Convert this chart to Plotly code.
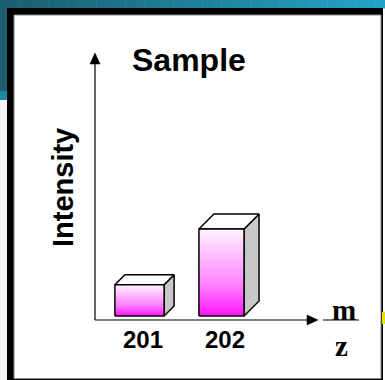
import plotly.graph_objects as go

# ---------------- data ----------------
categories = ["201", "202"]
intensity = [36, 100]
title_text = "Sample"
y_label = "Intensity"
x_label_num = "m"
x_label_den = "z"

# ---------------- styles / calibration ----------------
W, H = 385, 380
PX_PER_X = 82.0      # pixels per category step
PX_PER_Y = 0.87      # pixels per intensity unit
X0_PX = 139.5        # pixel x of category 0 centre
Y0_PX = 316.0        # pixel y of zero intensity
BAR_W = [0.60, 0.55]     # front face width (category units)
DEPTH_PX = [10, 15]      # 3-D depth offset in pixels (perspective)
FRONT_SCALE = [[0, "#ff14ff"], [0.35, "#ff80ff"], [1, "#fff4ff"]]
SIDE = "#c8c8c8"
TOP = "#ffffff"
EDGE = "black"

x_range = [-X0_PX / PX_PER_X, (W - X0_PX) / PX_PER_X]
y_range = [-(H - Y0_PX) / PX_PER_Y, Y0_PX / PX_PER_Y]


def px(x):
    return x / W


def py(y):
    return 1 - y / H


fig = go.Figure()

# ---------------- 3-D bars ----------------
for i, (cat, val) in enumerate(zip(categories, intensity)):
    xc = i
    xl, xr = xc - BAR_W[i] / 2, xc + BAR_W[i] / 2
    dx = DEPTH_PX[i] / PX_PER_X
    dy = DEPTH_PX[i] / PX_PER_Y
    # side face
    fig.add_trace(go.Scatter(
        x=[xr, xr + dx, xr + dx, xr, xr], y=[0, dy, val + dy, val, 0],
        fill="toself", fillcolor=SIDE, mode="lines",
        line=dict(color=EDGE, width=1.5), hoverinfo="skip", showlegend=False))
    # top face
    fig.add_trace(go.Scatter(
        x=[xl, xr, xr + dx, xl + dx, xl], y=[val, val, val + dy, val + dy, val],
        fill="toself", fillcolor=TOP, mode="lines",
        line=dict(color=EDGE, width=1.5), hoverinfo="skip", showlegend=False))
    # front face with vertical gradient
    fig.add_trace(go.Scatter(
        x=[xl, xr, xr, xl, xl], y=[0, 0, val, val, 0],
        fill="toself", mode="lines",
        fillgradient=dict(type="vertical", colorscale=FRONT_SCALE),
        line=dict(color=EDGE, width=1.5), name=cat,
        hovertemplate=cat + ": %{y}<extra></extra>", showlegend=False))

# ---------------- background / frame ----------------
shapes = []
shapes.append(dict(type="rect", xref="paper", yref="paper", x0=0, x1=px(7),
                   y0=py(380), y1=py(100), fillcolor="#f1f5f5", line_width=0, layer="below"))
shapes.append(dict(type="rect", xref="paper", yref="paper", x0=0, x1=px(7),
                   y0=py(100), y1=py(91), fillcolor="#1c87a1", line_width=0, layer="below"))
shapes.append(dict(type="rect", xref="paper", yref="paper", x0=0, x1=px(7),
                   y0=py(91), y1=py(0), fillcolor="#1b5e6d", line_width=0, layer="below"))
c0 = (0x1b, 0x5e, 0x6d)
c1 = (0x24, 0xa3, 0xc8)
n = 40
for k in range(n):
    t = k / (n - 1)
    col = "rgb(%d,%d,%d)" % tuple(round(a + (b - a) * t) for a, b in zip(c0, c1))
    shapes.append(dict(type="rect", xref="paper", yref="paper",
                       x0=px(W * k / n), x1=px(W * (k + 1) / n + 0.5),
                       y0=py(8.5), y1=py(0), fillcolor=col, line_width=0, layer="below"))
shapes.append(dict(type="rect", xref="paper", yref="paper", x0=px(7), x1=px(383),
                   y0=py(380), y1=py(8), fillcolor="black", line_width=0, layer="below"))
shapes.append(dict(type="rect", xref="paper", yref="paper", x0=px(14), x1=px(381),
                   y0=py(378.5), y1=py(15), fillcolor="white",
                   line=dict(color="#8a8a8a", width=1), layer="below"))

# axes lines
shapes.append(dict(type="line", xref="paper", yref="paper", x0=px(95), x1=px(95),
                   y0=py(320), y1=py(60), line=dict(color="black", width=1.2)))
shapes.append(dict(type="line", xref="paper", yref="paper", x0=px(95), x1=px(310),
                   y0=py(320), y1=py(320), line=dict(color="black", width=1.2)))
# arrow heads
shapes.append(dict(type="path", xref="paper", yref="paper",
                   path="M %f %f L %f %f L %f %f Z" % (px(95), py(53), px(90), py(64), px(100), py(64)),
                   fillcolor="black", line=dict(color="black", width=0.5)))
shapes.append(dict(type="path", xref="paper", yref="paper",
                   path="M %f %f L %f %f L %f %f Z" % (px(318), py(320), px(307), py(315), px(307), py(325)),
                   fillcolor="black", line=dict(color="black", width=0.5)))
# m/z fraction bar
shapes.append(dict(type="line", xref="paper", yref="paper", x0=px(323), x1=px(359),
                   y0=py(320), y1=py(320), line=dict(color="black", width=1.2)))
# yellow sliver at right edge
shapes.append(dict(type="rect", xref="paper", yref="paper", x0=px(382), x1=px(385),
                   y0=py(324), y1=py(312), fillcolor="#e6e000", line_width=0))

# ---------------- text ----------------
ann = []
sans = "Liberation Sans, Arial, sans-serif"
serif = "Liberation Serif, Times New Roman, serif"
ann.append(dict(text="<b>%s</b>" % title_text, xref="paper", yref="paper",
                x=px(189), y=py(60), showarrow=False, xanchor="center", yanchor="middle",
                font=dict(family=sans, size=32, color="black")))
ann.append(dict(text="<b>%s</b>" % y_label, xref="paper", yref="paper",
                x=px(63), y=py(188), showarrow=False, xanchor="center", yanchor="middle",
                textangle=-90, font=dict(family=sans, size=29, color="black")))
for i, cat in enumerate(categories):
    ann.append(dict(text="<b>%s</b>" % cat, xref="x", yref="paper",
                    x=i + 3 / PX_PER_X, y=py(339), showarrow=False,
                    xanchor="center", yanchor="middle",
                    font=dict(family=sans, size=24, color="black")))
ann.append(dict(text="<b>%s</b>" % x_label_num, xref="paper", yref="paper",
                x=px(344), y=py(310), showarrow=False, xanchor="center", yanchor="middle",
                font=dict(family=serif, size=29, color="black")))
ann.append(dict(text="<b>%s</b>" % x_label_den, xref="paper", yref="paper",
                x=px(341), y=py(346), showarrow=False, xanchor="center", yanchor="middle",
                font=dict(family=serif, size=29, color="black")))

fig.update_layout(
    width=W, height=H, margin=dict(l=0, r=0, t=0, b=0),
    paper_bgcolor="white", plot_bgcolor="rgba(0,0,0,0)",
    xaxis=dict(range=x_range, visible=False, fixedrange=True),
    yaxis=dict(range=y_range, visible=False, fixedrange=True),
    shapes=shapes, annotations=ann, showlegend=False,
)

fig.write_html("out.html", config={"displayModeBar": False})

# remove the browser's default page margin so the figure sits at (0, 0)
with open("out.html", "r", encoding="utf-8") as f:
    html = f.read()
html = html.replace("<head>", "<head><style>html,body{margin:0;padding:0;overflow:hidden;}</style>", 1)
with open("out.html", "w", encoding="utf-8") as f:
    f.write(html)
